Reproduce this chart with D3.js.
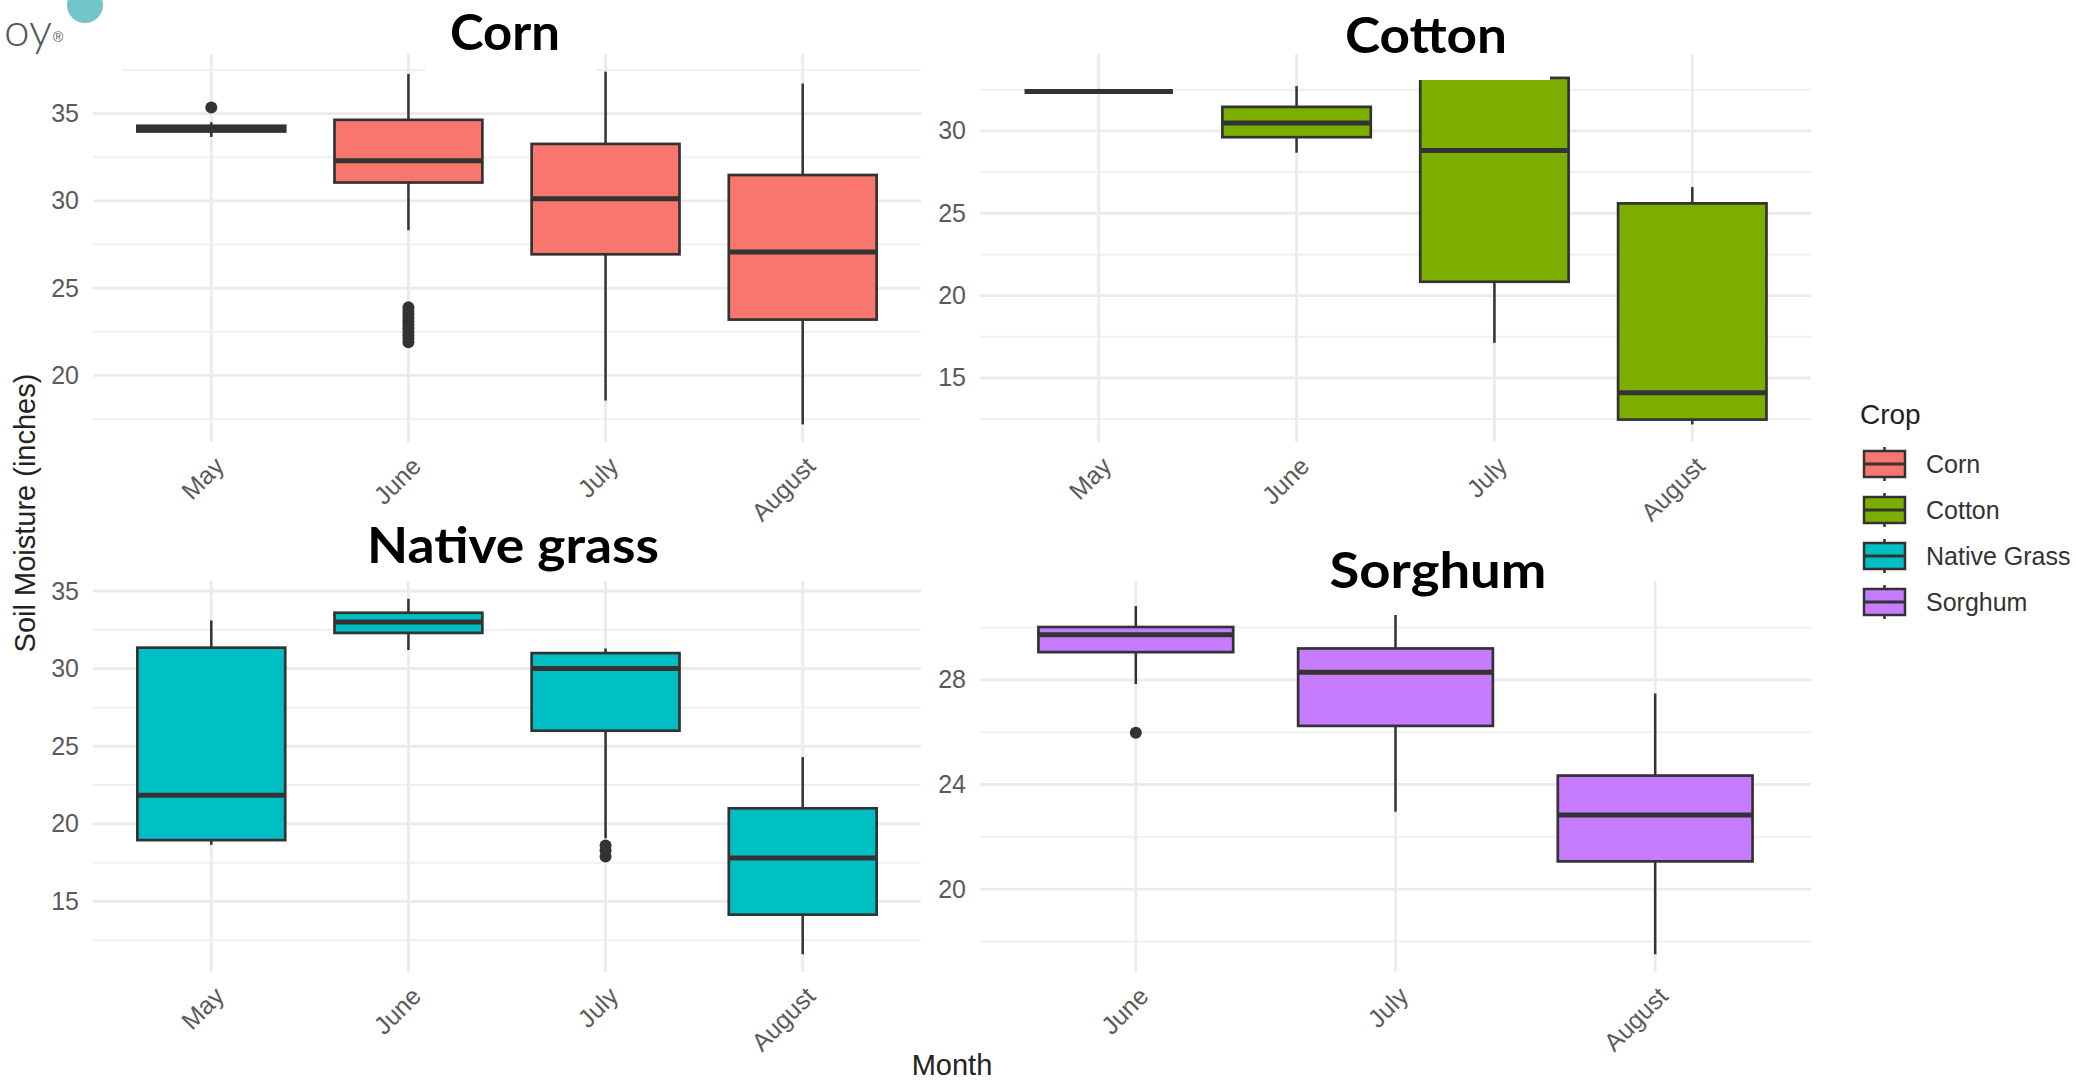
<!DOCTYPE html>
<html><head><meta charset="utf-8">
<script src="https://cdn.jsdelivr.net/npm/d3@7"></script>
<style>body{margin:0;background:#fff} svg{display:block}</style>
</head><body>
<svg id="chart" width="2076" height="1084"></svg>
<script>
// ---------------- data ----------------
const crops = ["Corn", "Cotton", "Native Grass", "Sorghum"];
const panelTitles = ["Corn", "Cotton", "Native grass", "Sorghum"];
const cropColors = ["#F8766D", "#7CAE00", "#00BFC4", "#C77CFF"];

// stats per month: [lower whisker, Q1, median, Q3, upper whisker]
const cornMonths = ["May", "June", "July", "August"];
const cornStats = [[33.66, 33.97, 34.13, 34.3, 34.5], [28.32, 31.05, 32.29, 34.64, 37.27], [18.56, 26.94, 30.12, 33.26, 37.4], [17.2, 23.2, 27.07, 31.48, 36.72]];
const cornOutliers = [[35.34], [21.9, 22.1, 22.3, 22.5, 22.7, 22.9, 23.1, 23.3, 23.5, 23.7, 23.9], [], []];
const cornTicks = [20, 25, 30, 35];
const cornMinor = [17.5, 22.5, 27.5, 32.5, 37.5];

const cottonMonths = ["May", "June", "July", "August"];
const cottonStats = [[32.4, 32.4, 32.4, 32.4, 32.4], [28.68, 29.62, 30.48, 31.46, 32.72], [17.13, 20.84, 28.81, 33.22, 33.6], [12.18, 12.47, 14.1, 25.6, 26.59]];
const cottonOutliers = [[], [], [], []];
const cottonTicks = [15, 20, 25, 30];
const cottonMinor = [12.5, 17.5, 22.5, 27.5, 32.5];

const grassMonths = ["May", "June", "July", "August"];
const grassStats = [[18.65, 18.95, 21.85, 31.35, 33.1], [31.2, 32.3, 33.0, 33.6, 34.5], [19.07, 26.0, 30.0, 31.0, 31.3], [11.6, 14.15, 17.8, 21.0, 24.3]];
const grassOutliers = [[], [], [18.6, 18.3, 17.9], []];
const grassTicks = [15, 20, 25, 30, 35];
const grassMinor = [12.5, 17.5, 22.5, 27.5, 32.5];

const sorghumMonths = ["June", "July", "August"];
const sorghumStats = [[27.84, 29.06, 29.72, 30.02, 30.82], [22.96, 26.24, 28.29, 29.2, 31.1], [17.51, 21.06, 22.83, 24.34, 27.48]];
const sorghumOutliers = [[25.98], [], []];
const sorghumTicks = [20, 24, 28];
const sorghumMinor = [18, 22, 26, 30];

const yTitle = "Soil Moisture (inches)";
const xTitle = "Month";
const legendTitle = "Crop";

// ---------------- layout ----------------
const svg = d3.select("#chart");
const FONT = "'Liberation Sans', Arial, Helvetica, sans-serif";
const TITLE_FONT = "Lato, 'Open Sans', sans-serif";
const ink = "#333333";

const panels = [
  {months: cornMonths, stats: cornStats, out: cornOutliers, ticks: cornTicks, minor: cornMinor, color: cropColors[0], x0: 93, x1: 921, y0: 54, y1: 442},
  {months: cottonMonths, stats: cottonStats, out: cottonOutliers, ticks: cottonTicks, minor: cottonMinor, color: cropColors[1], x0: 980, x1: 1811, y0: 54, y1: 442},
  {months: grassMonths, stats: grassStats, out: grassOutliers, ticks: grassTicks, minor: grassMinor, color: cropColors[2], x0: 93, x1: 921, y0: 581, y1: 972},
  {months: sorghumMonths, stats: sorghumStats, out: sorghumOutliers, ticks: sorghumTicks, minor: sorghumMinor, color: cropColors[3], x0: 980, x1: 1811, y0: 581, y1: 972}
];

panels.forEach(p => {
  const all = p.stats.flat().concat(p.out.flat());
  const lo = d3.min(all), hi = d3.max(all), r = hi - lo;
  const y = d3.scaleLinear().domain([lo - 0.05 * r, hi + 0.05 * r]).range([p.y1, p.y0]);
  const x = d3.scalePoint().domain(p.months).range([p.x0, p.x1]).padding(0.6);
  const bw = x.step() * 0.75;
  const g = svg.append("g");

  // grid
  g.selectAll(".minor").data(p.minor).join("line")
    .attr("x1", p.x0).attr("x2", p.x1).attr("y1", d => y(d)).attr("y2", d => y(d))
    .attr("stroke", "#f0f0f0").attr("stroke-width", 2);
  g.selectAll(".major").data(p.ticks).join("line")
    .attr("x1", p.x0).attr("x2", p.x1).attr("y1", d => y(d)).attr("y2", d => y(d))
    .attr("stroke", "#ebebeb").attr("stroke-width", 2.8);
  g.selectAll(".vgrid").data(p.months).join("line")
    .attr("x1", d => x(d)).attr("x2", d => x(d)).attr("y1", p.y0).attr("y2", p.y1)
    .attr("stroke", "#ebebeb").attr("stroke-width", 2.8);

  // boxes
  const bx = g.selectAll(".box").data(p.months.map((m, i) => ({m, s: p.stats[i], o: p.out[i]}))).join("g");
  bx.append("line").attr("x1", d => x(d.m)).attr("x2", d => x(d.m))
    .attr("y1", d => y(d.s[0])).attr("y2", d => y(d.s[1])).attr("stroke", ink).attr("stroke-width", 2.5);
  bx.append("line").attr("x1", d => x(d.m)).attr("x2", d => x(d.m))
    .attr("y1", d => y(d.s[3])).attr("y2", d => y(d.s[4])).attr("stroke", ink).attr("stroke-width", 2.5);
  bx.append("rect").attr("x", d => x(d.m) - bw / 2).attr("width", bw)
    .attr("y", d => y(d.s[3])).attr("height", d => y(d.s[1]) - y(d.s[3]))
    .attr("fill", p.color).attr("stroke", ink).attr("stroke-width", 2.7);
  bx.append("line").attr("x1", d => x(d.m) - bw / 2).attr("x2", d => x(d.m) + bw / 2)
    .attr("y1", d => y(d.s[2])).attr("y2", d => y(d.s[2])).attr("stroke", ink).attr("stroke-width", 5);
  bx.each(function (d) {
    d3.select(this).selectAll("circle").data(d.o).join("circle")
      .attr("cx", x(d.m)).attr("cy", v => y(v)).attr("r", 6).attr("fill", ink);
  });

  // y axis labels
  const ya = g.append("g").attr("transform", `translate(${p.x0},0)`)
    .call(d3.axisLeft(y).tickValues(p.ticks).tickSize(0).tickPadding(14).tickFormat(d3.format("d")));
  ya.select(".domain").remove();
  ya.selectAll("text").attr("font-family", FONT).attr("font-size", 25).attr("fill", "#5a5a5a");

  // x axis labels
  const xa = g.append("g").attr("transform", `translate(0,${p.y1})`)
    .call(d3.axisBottom(x).tickSize(0));
  xa.select(".domain").remove();
  xa.selectAll("text").attr("font-family", FONT).attr("font-size", 25).attr("fill", "#5a5a5a")
    .attr("x", 0).attr("y", 0).attr("dy", "0.72em").attr("text-anchor", "end")
    .attr("transform", "translate(1,13) rotate(-45)");
});

// ---------------- pasted title boxes ----------------
const titleBoxes = [
  {x: 426, y: 0, w: 170, h: 72, tx: 505, ty: 50, len: 110},
  {x: 1330, y: 0, w: 220, h: 80, tx: 1426, ty: 53, len: 162},
  {x: 360, y: 520, w: 306, h: 55, tx: 513, ty: 563, len: 292},
  {x: 1320, y: 540, w: 240, h: 75, tx: 1438, ty: 588, len: 217}
];
titleBoxes.forEach((b, i) => {
  svg.append("rect").attr("x", b.x).attr("y", b.y).attr("width", b.w).attr("height", b.h).attr("fill", "#fff");
  svg.append("text").attr("x", b.tx).attr("y", b.ty).attr("text-anchor", "middle")
    .attr("font-family", TITLE_FONT).attr("font-weight", 700).attr("font-size", 50)
    .attr("textLength", b.len).attr("lengthAdjust", "spacingAndGlyphs")
    .attr("fill", "#000").text(panelTitles[i]);
});

// ---------------- logo fragment ----------------
svg.append("rect").attr("x", 0).attr("y", 0).attr("width", 122).attr("height", 72).attr("fill", "#fff");
svg.append("circle").attr("cx", 85).attr("cy", 5).attr("r", 18).attr("fill", "#72c5c9");
svg.append("text").attr("x", 4).attr("y", 46).attr("font-family", "Lato, sans-serif").attr("font-weight", 300)
  .attr("font-size", 46).attr("fill", "#4f5960").text("oy");
svg.append("text").attr("x", 53).attr("y", 42).attr("font-family", FONT)
  .attr("font-size", 14).attr("fill", "#4f5960").text("®");

// ---------------- axis titles ----------------
svg.append("text").attr("transform", "translate(35,513) rotate(-90)").attr("text-anchor", "middle")
  .attr("font-family", FONT).attr("font-size", 29).attr("fill", "#222").text(yTitle);
svg.append("text").attr("x", 952).attr("y", 1075).attr("text-anchor", "middle")
  .attr("font-family", FONT).attr("font-size", 29).attr("fill", "#222").text(xTitle);

// ---------------- legend ----------------
const lg = svg.append("g");
lg.append("text").attr("x", 1860).attr("y", 424).attr("font-family", FONT).attr("font-size", 28)
  .attr("fill", "#222").text(legendTitle);
const ly = d3.scalePoint().domain(crops).range([464, 602]);
const key = lg.selectAll(".key").data(crops).join("g").attr("transform", d => `translate(1884.5,${ly(d)})`);
key.append("line").attr("x1", 0).attr("x2", 0).attr("y1", -17).attr("y2", 17).attr("stroke", ink).attr("stroke-width", 2.5);
key.append("rect").attr("x", -20.5).attr("y", -13).attr("width", 41).attr("height", 26)
  .attr("fill", (d, i) => cropColors[i]).attr("stroke", ink).attr("stroke-width", 2.5);
key.append("line").attr("x1", -20.5).attr("x2", 20.5).attr("y1", 0).attr("y2", 0).attr("stroke", ink).attr("stroke-width", 3);
key.append("text").attr("x", 41.5).attr("y", 0).attr("dy", "0.35em").attr("font-family", FONT)
  .attr("font-size", 25).attr("fill", "#333").text(d => d);
</script>
</body></html>
